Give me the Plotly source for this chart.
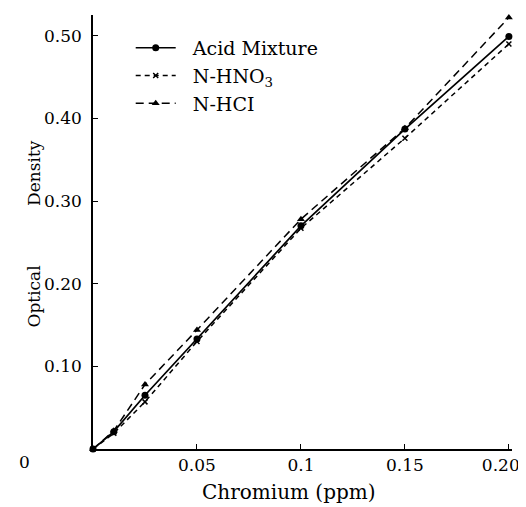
import plotly.graph_objects as go

chromium = [0, 0.01, 0.025, 0.05, 0.1, 0.15, 0.2]
acid_mixture = [0, 0.021, 0.065, 0.133, 0.27, 0.387, 0.499]
n_hno3 = [0, 0.019, 0.057, 0.130, 0.267, 0.376, 0.490]
n_hcl = [0, 0.022, 0.078, 0.144, 0.278, 0.388, 0.522]

x_ticks = [0.05, 0.1, 0.15, 0.2]
x_labels = ["0.05", "0.1", "0.15", "0.20"]
y_ticks = [0.1, 0.2, 0.3, 0.4, 0.5]
y_labels = ["0.10", "0.20", "0.30", "0.40", "0.50"]

FONT = "DejaVu Serif"

# keep the last x label inside the page (it sits just left of its tick in the original)
x_text = x_labels[:-1] + [x_labels[-1] + "&nbsp;" * 3]

fig = go.Figure()
fig.add_trace(go.Scatter(x=chromium, y=acid_mixture, name="&nbsp;&nbsp;Acid Mixture",
                         mode="lines+markers", cliponaxis=False,
                         line=dict(color="black", width=1.7),
                         marker=dict(symbol="circle", size=7, color="black")))
fig.add_trace(go.Scatter(x=chromium, y=n_hno3, name="&nbsp;&nbsp;N-HNO<sub>3</sub>",
                         mode="lines+markers", cliponaxis=False,
                         line=dict(color="black", width=1.5, dash="5px,4px"),
                         marker=dict(symbol="x-thin", size=5,
                                     line=dict(color="black", width=1.5))))
fig.add_trace(go.Scatter(x=chromium, y=n_hcl, name="&nbsp;&nbsp;N-HCI",
                         mode="lines+markers", cliponaxis=False,
                         line=dict(color="black", width=1.5, dash="8px,5px"),
                         marker=dict(symbol="triangle-up", size=7, color="black")))

# the page body has an 8px margin, so the figure is sized to fill the rest
fig.update_layout(
    width=518, height=499,
    margin=dict(l=85, r=14, t=7, b=58),
    paper_bgcolor="white", plot_bgcolor="white",
    font=dict(family=FONT, color="black", size=17),
    showlegend=True,
    legend=dict(x=0.09, y=0.968, xanchor="left", yanchor="top",
                font=dict(family=FONT, size=19, color="black"),
                bgcolor="rgba(0,0,0,0)", itemwidth=40),
    xaxis=dict(range=[0, 0.2015], tickvals=x_ticks, ticktext=x_text,
               ticks="inside", ticklen=5, tickcolor="black", tickwidth=1.3,
               showline=True, linecolor="black", linewidth=1.6,
               showgrid=False, zeroline=False, ticklabelstandoff=0,
               ticklabeloverflow="allow", automargin=False,
               tickfont=dict(family=FONT, size=17)),
    yaxis=dict(range=[0, 0.525], tickvals=y_ticks, ticktext=y_labels,
               ticks="inside", ticklen=5, tickcolor="black", tickwidth=1.3,
               showline=True, linecolor="black", linewidth=1.6,
               showgrid=False, zeroline=False, ticklabelstandoff=6,
               automargin=False,
               tickfont=dict(family=FONT, size=17)),
)

fig.add_annotation(text="0", xref="paper", yref="paper", x=-0.163, y=0,
                   yshift=-13, showarrow=False, xanchor="center",
                   yanchor="middle", font=dict(family=FONT, size=17))
fig.add_annotation(text="Chromium (ppm)", xref="paper", yref="paper",
                   x=0.467, y=0, yshift=-43, showarrow=False, xanchor="center",
                   yanchor="middle", font=dict(family=FONT, size=20))
fig.add_annotation(text="Optical" + "&nbsp;" * 11 + "Density",
                   xref="paper", yref="paper", x=-0.14, y=0.495, xanchor="center",
                   yanchor="middle", textangle=-90, showarrow=False,
                   font=dict(family=FONT, size=17))

fig.write_html("out.html")
